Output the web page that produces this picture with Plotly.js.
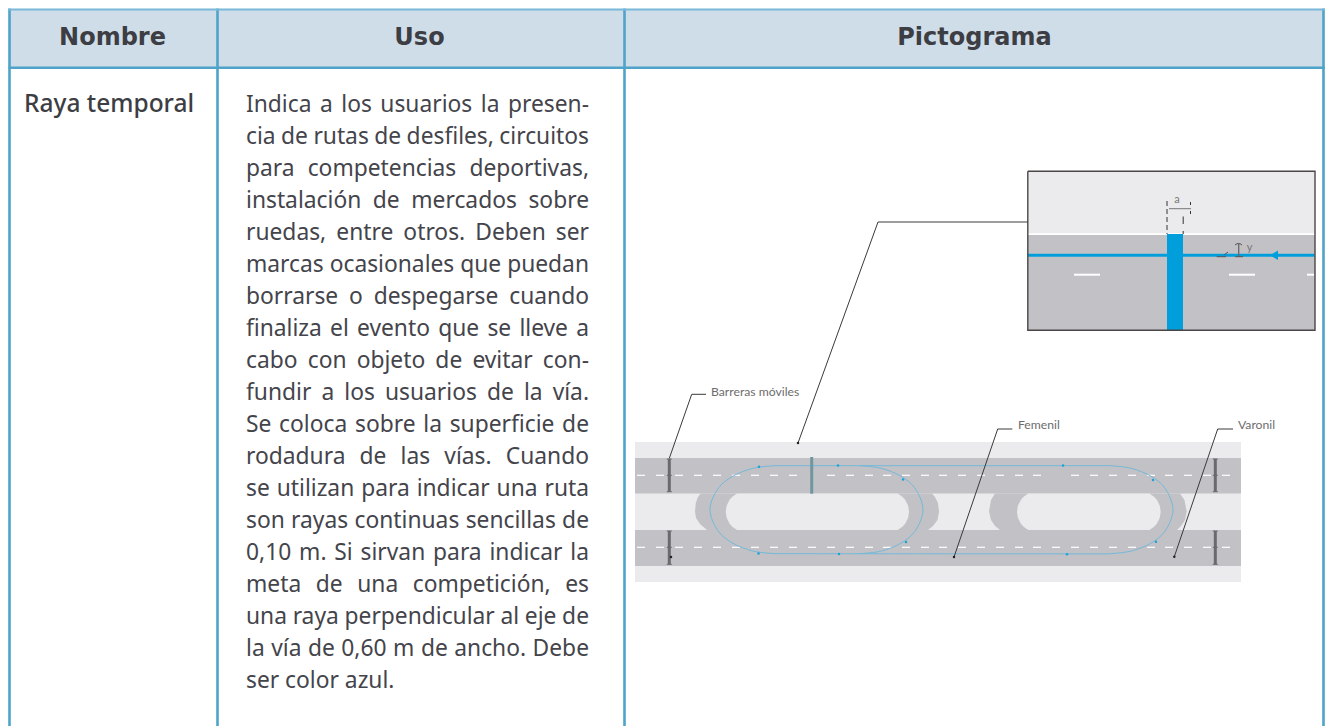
<!DOCTYPE html>
<html><head><meta charset="utf-8">
<script src="https://cdn.plot.ly/plotly-3.0.1.min.js"></script>
<style>html,body{margin:0;padding:0;background:#fff;overflow:hidden}#c{width:1325px;height:726px}</style>
</head><body><div id="c"></div>
<script>
// ---------- table content ----------
const headers = ["Nombre", "Uso", "Pictograma"];
const headerCentres = [112.5, 419.5, 974.5];
const rowName = "Raya temporal";
const bodyLines = [
 "Indica a los usuarios la presen-","cia de rutas de desfiles, circuitos","para competencias deportivas,",
 "instalación de mercados sobre","ruedas, entre otros. Deben ser","marcas ocasionales que puedan",
 "borrarse o despegarse cuando","finaliza el evento que se lleve a","cabo con objeto de evitar con-",
 "fundir a los usuarios de la vía.","Se coloca sobre la superficie de","rodadura de las vías. Cuando",
 "se utilizan para indicar una ruta","son rayas continuas sencillas de","0,10 m. Si sirvan para indicar la",
 "meta de una competición, es","una raya perpendicular al eje de","la vía de 0,60 m de ancho. Debe","ser color azul."];
const bodyTop = 106.5, bodyStep = 32, bodyLeft = 246, bodyRight = 589;

// ---------- table grid ----------
const gridV = [9.5, 217.5, 624.5, 1323.5];
const gridH = [9.5, 67.8];

// ---------- diagram geometry ----------
const bandX=[635,1241], bandY=[442,582];
const roadTopY=[458,493.5], roadBotY=[530,566];
const blob1X=[700.7,698,695.8,695,696,700,707,928,933,937.5,939,938,935,932];
const blob1Y=[493.5,497,503,511.5,518,524,530,530,526,520,511.5,503,497,493.5];
const blob2X=[995,991,989,991,995,1000,1177,1181,1185,1186.7,1184.5,1180];
const blob2Y=[493.5,500,511.5,520,526,530,530,526,520,511.5,500,493.5];
const holeY=[493.5,496.7,499.7,505.7,511.75,517.8,523.8,526.8,530,530,526.8,523.8,517.8,511.75,505.7,499.7,496.7,493.5];
const hole1X=[737,732.3,729.6,726.6,725.7,726.6,729.6,732.3,737,897.7,902.4,905.1,908.1,909,908.1,905.1,902.4,897.7];
const hole2X=[1028.3,1023.6,1020.9,1017.9,1017,1017.9,1020.9,1023.6,1028.3,1149.4,1154.1,1156.8,1159.8,1160.7,1159.8,1156.8,1154.1,1149.4];
const dashTopStarts=[637,656,675,694,713,732,751,770,789,827,846,865,883,902,921,939,958,977,996,1015,1033,1071,1090,1109,1128,1147,1165,1184,1203,1222];
const dashBotStarts=[637,656,675,694,713,732,751,770,789,808,827,846,865,883,902,921,939,958,977,996,1015,1033,1052,1071,1090,1109,1128,1147,1165,1184,1203,1222];
const dashLen=8, dashTopY=475.3, dashBotY=547.3;
const routeTopX=[775,1110], routeTopY=[465.7,465.7], routeBotX=[775,1110], routeBotY=[553.7,553.9];
const arcY=[465.7,468.4,476,487.7,509.7,531.7,543.4,551,553.7];
const arcLeftX=[775,752.8,733.2,718.7,710,718.7,733.2,752.8,775];
const arcMidX=[860,881.5,900.5,914.6,923,914.6,900.5,881.5,860];
const arcRightX=[1110,1131.5,1150.5,1164.6,1173,1164.6,1150.5,1131.5,1110];
const routeDotsX=[759,838,903,906,758.5,839,1063,1153,1156,1067];
const routeDotsY=[466.8,465.6,479.5,542,553.5,554,465.6,480,541.7,554.3];
const barrierX=[669.3,1215.3], barrierTop=[459,491.7], barrierBot=[531,564.3];
const finishX=[811.7,811.7], finishY=[457,493.7];

const leaderBarrerasX=[669.3,691.7,706], leaderBarrerasY=[458.3,394.3,394.3];
const leaderInsetX=[798,878,1028], leaderInsetY=[443,222,222];
const leaderFemenilX=[954,997.7,1012.3], leaderFemenilY=[557,429,429];
const leaderVaronilX=[1174.3,1217.7,1233], leaderVaronilY=[556.7,429,429];
const labelTexts=["Barreras móviles","Femenil","Varonil"];
const labelX=[711,1018,1238], labelY=[392.5,426,426];

const insetX=[1027.8,1315], insetTopY=[171.3,233.3], insetRoadY=[235,330.3];
const insetLineX=[1028,1314.5], insetLineY=[255.3,255.3];
const insetBarX=[1167,1183], insetBarY=[234,330];
const arrowX=[1270,1278,1278,1270], arrowY=[255.3,250.6,260,255.3];
const insetDashes=[[1074,1100],[1229,1255],[1307,1314]], insetDashY=274.7;
const dimTexts=["a","y"], dimX=[1177,1249.5], dimY=[200.5,248];

// ---------- trace helpers ----------
const traces=[];
function poly(x,y,fill){traces.push({x:x.concat(x[0]),y:y.concat(y[0]),mode:'lines',fill:'toself',fillcolor:fill,line:{width:0},hoverinfo:'skip'});}
function rect(xr,yr,fill){poly([xr[0],xr[1],xr[1],xr[0]],[yr[0],yr[0],yr[1],yr[1]],fill);}
function line(x,y,color,w,extra){traces.push({x:x,y:y,mode:'lines',line:Object.assign({color:color,width:w},extra||{}),hoverinfo:'skip'});}
function segs(starts,len,y,color,w){const xs=[],ys=[];starts.forEach(s=>{xs.push(s,s+len,null);ys.push(y,y,null);});line(xs,ys,color,w);}
function text(ts,xs,ys,size,color,family,pos,weight){traces.push({x:xs,y:ys,text:ts,mode:'text',textposition:pos,
  textfont:{size:size,color:color,family:family,weight:weight||400},hoverinfo:'skip'});}

// header
rect([gridV[0],gridV[3]],[gridH[0],gridH[1]],'#cfdde9');
// diagram
const LIGHT='#ebebed',ROAD='#c2c1c6',BLUE='#009fdb',THIN='#74b9d9',INK='#3a3a3a';
rect(bandX,bandY,LIGHT);
rect(bandX,roadTopY,ROAD);
rect(bandX,roadBotY,ROAD);
poly(blob1X,blob1Y,ROAD); poly(blob2X,blob2Y,ROAD);
poly(hole1X,holeY,LIGHT); poly(hole2X,holeY,LIGHT);
segs(dashTopStarts,dashLen,dashTopY,'#ffffff',1.2);
segs(dashBotStarts,dashLen,dashBotY,'#ffffff',1.2);
line(routeTopX,routeTopY,THIN,1); line(routeBotX,routeBotY,THIN,1);
line(arcLeftX,arcY,THIN,1,{shape:'spline'});
line(arcMidX,arcY,THIN,1,{shape:'spline'});
line(arcRightX,arcY,THIN,1,{shape:'spline'});
traces.push({x:routeDotsX,y:routeDotsY,mode:'markers',marker:{size:2.5,color:'#1ea0d8'},hoverinfo:'skip'});
barrierX.forEach(bx=>{
  line([bx,bx],barrierTop,'#6a6a6c',3);
  line([bx,bx],barrierBot,'#6a6a6c',3);
  segs([bx-2.5],5,dashTopY,'#6a6a6c',1); segs([bx-2.5],5,dashBotY,'#6a6a6c',1);
  segs([bx-2.5],5,barrierTop[0],'#6a6a6c',1); segs([bx-2.5],5,barrierTop[1],'#6a6a6c',1);
  segs([bx-2.5],5,barrierBot[0],'#6a6a6c',1); segs([bx-2.5],5,barrierBot[1],'#6a6a6c',1);
});
line(finishX,finishY,'#6f979f',3);
line(leaderBarrerasX,leaderBarrerasY,INK,1);
line(leaderInsetX,leaderInsetY,INK,1);
line(leaderFemenilX,leaderFemenilY,INK,1);
line(leaderVaronilX,leaderVaronilY,INK,1);
traces.push({x:[798,954,1174.3,671],y:[443,557,556.7,557],mode:'markers',marker:{size:2.5,color:'#222'},hoverinfo:'skip'});
text(labelTexts,labelX,labelY,12.2,'#6d6d6d','Lato, sans-serif','middle right');
// inset
rect(insetX,insetTopY,LIGHT);
rect(insetX,insetRoadY,ROAD);
line(insetLineX,insetLineY,BLUE,3);
rect(insetBarX,insetBarY,BLUE);
poly(arrowX,arrowY,BLUE);
insetDashes.forEach(d=>line(d,[insetDashY,insetDashY],'#ffffff',2));
line([insetX[0],insetX[1],insetX[1],insetX[0],insetX[0]],[171.3,171.3,330.3,330.3,171.3],'#4a4646',1.4);
line([1167,1167],[201,234],'#333',1,{dash:'5px,3px'});
line([1183.2,1183.2],[216.5,224],'#333',1);
line([1183.2,1183.2],[231,234],'#333',1);
line([1190.5,1190.5],[202,205],'#333',1);
line([1190.5,1190.5],[211,214],'#333',1);
line([1169,1191],[208.7,208.7],'#777',1);
line([1238.7,1238.7],[244,257],'#666',1.3);
line([1235,1243],[256.7,256.7],'#555',1);
line([1235,1237,1240,1242],[245,243.7,243.7,245],'#555',1);
line([1216.7,1226],[256.7,256.7],'#555',1);
line([1224,1228],[255,252],'#555',1);
text(dimTexts,dimX,dimY,11,'#777777','Lato, sans-serif','middle center');
// grid (on top)
const GRID='#4fa3c9';
gridV.forEach(v=>line([v,v],[8.5,726],GRID,2.6));
line([8.5,1325],[gridH[0],gridH[0]],'#79b8d8',2);
line([8.5,1325],[gridH[1],gridH[1]],GRID,2.5);

// text
const HF='"DejaVu Sans", sans-serif', BF='"Noto Sans", sans-serif';
const HSIZE=24, NSIZE=24.5, BSIZE=22.8;
text(headers,headerCentres,[38.5,38.5,38.5],HSIZE,'#3d3d44',HF,'middle center',700);
text([rowName],[24],[105.5],NSIZE,'#3d3d44',BF,'middle right',500);

// justified body text: each word placed through the axis so both edges align
const ctx=document.createElement('canvas').getContext('2d');
ctx.font=BSIZE+'px "Noto Sans"';
const wordT=[],wordX=[],wordY=[];
bodyLines.forEach((ln,i)=>{
  const ws=ln.split(' '), widths=ws.map(w=>ctx.measureText(w).width);
  const total=widths.reduce((a,b)=>a+b,0), last=i===bodyLines.length-1;
  const gap=last||ws.length<2?ctx.measureText(' ').width:(bodyRight-bodyLeft-total)/(ws.length-1);
  let x=bodyLeft;
  ws.forEach((w,k)=>{wordT.push(w);wordX.push(x);wordY.push(bodyTop+i*bodyStep);x+=widths[k]+gap;});
});
text(wordT,wordX,wordY,BSIZE,'#44444b',BF,'middle right');

Plotly.newPlot('c',traces,{
  width:1325,height:726,margin:{l:0,r:0,t:0,b:0},showlegend:false,
  paper_bgcolor:'#ffffff',plot_bgcolor:'#ffffff',
  xaxis:{range:[0,1325],visible:false,fixedrange:true},
  yaxis:{range:[726,0],visible:false,fixedrange:true}
},{displayModeBar:false,staticPlot:true});
</script></body></html>
